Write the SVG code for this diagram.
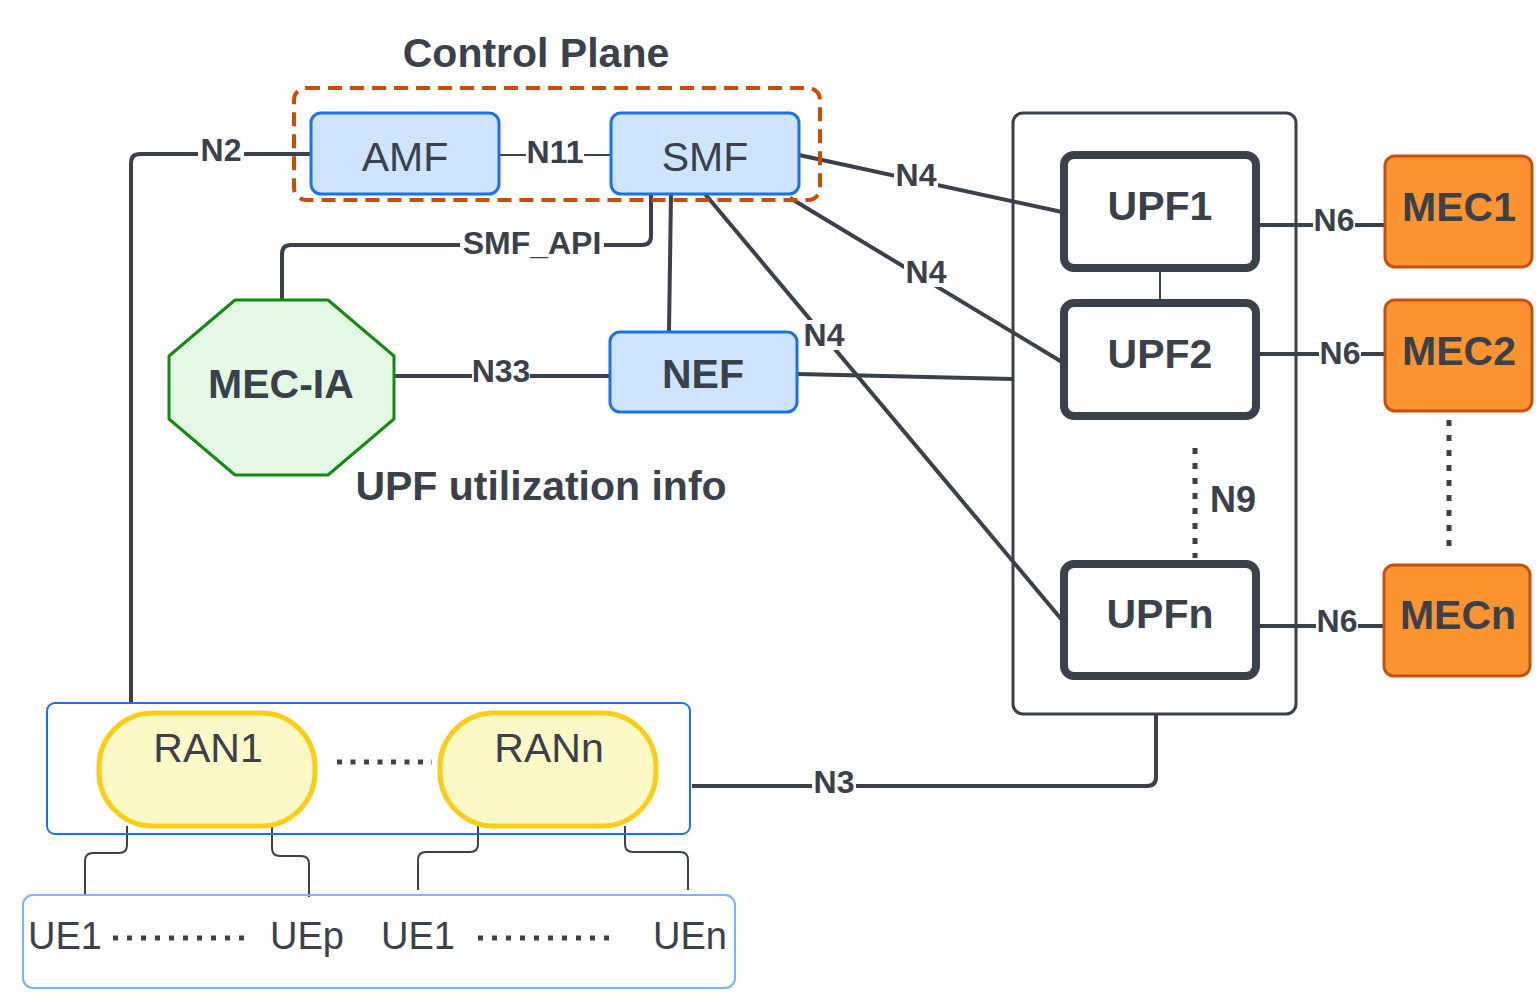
<svg xmlns="http://www.w3.org/2000/svg" width="1536" height="998" viewBox="0 0 1536 998">
<style>
text{font-family:"Liberation Sans",Arial,sans-serif;fill:#3a414a;text-anchor:middle;dominant-baseline:central}
.b{font-weight:bold}
.lbl{font-weight:bold;font-size:32px}
.big{font-size:41px}
.line{stroke:#3a414a;stroke-width:4;fill:none}
.thin{stroke:#3a414a;stroke-width:2;fill:none}
.blue{fill:#cfe4ff;stroke:#1a73e8;stroke-width:3}
.upf{fill:#fff;stroke:#3a414a;stroke-width:8}
.mec{fill:#fb9431;stroke:#c94f0d;stroke-width:3}
.ran{fill:#fcf9c6;stroke:#fccd16;stroke-width:5}
.bg{fill:#fff}
</style>
<rect width="1536" height="998" fill="#fff"/>
<g id="connectors">
  <path class="line" d="M311,154 H140 Q131,154 131,163 V702"/>
  <path class="line" d="M499,155 H611" style="stroke-width:2"/>
  <path class="line" d="M651,194 V236 Q651,245 642,245 H291 Q282,245 282,254 V300"/>
  <path class="line" d="M671,194 L669,331"/>
  <path class="line" d="M705,194 L1062,620"/>
  <path class="line" d="M799,155 L1062,212"/>
  <path class="line" d="M790,198 L1062,362"/>
  <path class="line" d="M394,376 H610"/>
  <path class="line" d="M797,374 L1013,379"/>
  <path class="thin" d="M1160,268 V303"/>
  <path class="line" d="M1195,448 V558" stroke-dasharray="6,9" style="stroke-width:5"/>
  <path class="line" d="M1449,420 V548" stroke-dasharray="6,9" style="stroke-width:5"/>
  <path class="line" d="M1256,225 H1385"/>
  <path class="line" d="M1256,354 H1385"/>
  <path class="line" d="M1256,626 H1385"/>
  <path class="line" d="M1156,714 V777 Q1156,786 1147,786 H692"/>
  <path class="thin" d="M127,826 V845 Q127,853 119,853 H93 Q85,853 85,861 V895"/>
  <path class="thin" d="M272,826 V848 Q272,856 280,856 H301 Q309,856 309,864 V897"/>
  <path class="thin" d="M478,826 V844 Q478,852 470,852 H426 Q418,852 418,860 V890"/>
  <path class="thin" d="M625,826 V844 Q625,852 633,852 H680 Q688,852 688,860 V890"/>
  <path class="line" d="M337,762 H432" stroke-dasharray="5,8.5" style="stroke-width:5"/>
  <path class="line" d="M113,938 H252" stroke-dasharray="5,9" style="stroke-width:5"/>
  <path class="line" d="M478,938 H618" stroke-dasharray="5,9" style="stroke-width:5"/>
  <rect class="bg" x="198" y="136" width="46" height="30"/>
  <text class="lbl" x="221" y="150">N2</text>
  <rect class="bg" x="526" y="138" width="58" height="30"/>
  <text class="lbl" x="555" y="152">N11</text>
  <rect class="bg" x="460" y="229" width="144" height="30"/>
  <text class="lbl" x="532" y="243">SMF_API</text>
  <rect class="bg" x="894" y="160" width="44" height="30"/>
  <text class="lbl" x="916" y="175">N4</text>
  <rect class="bg" x="904" y="257" width="44" height="30"/>
  <text class="lbl" x="926" y="272">N4</text>
  <rect class="bg" x="802" y="320" width="44" height="30"/>
  <text class="lbl" x="824" y="335">N4</text>
  <rect class="bg" x="472" y="357" width="58" height="30"/>
  <text class="lbl" x="501" y="371">N33</text>
  <text class="lbl" x="1233" y="499" style="font-size:36px">N9</text>
  <rect class="bg" x="1313" y="206" width="42" height="30"/>
  <text class="lbl" x="1334" y="220">N6</text>
  <rect class="bg" x="1319" y="339" width="42" height="30"/>
  <text class="lbl" x="1340" y="353">N6</text>
  <rect class="bg" x="1316" y="607" width="42" height="30"/>
  <text class="lbl" x="1337" y="621">N6</text>
  <rect class="bg" x="812" y="768" width="44" height="30"/>
  <text class="lbl" x="834" y="782">N3</text>
</g>
<g id="control-plane">
  <rect x="294" y="88" width="526" height="112" rx="12" fill="none" stroke="#cc4c02" stroke-width="4" stroke-dasharray="14,8"/>
  <text class="b" x="536" y="53" style="font-size:41px">Control Plane</text>
</g>
<g id="amf">
  <rect class="blue" x="311" y="113" width="188" height="81" rx="10"/>
  <text class="big" x="405" y="157">AMF</text>
</g>
<g id="smf">
  <rect class="blue" x="611" y="113" width="188" height="81" rx="10"/>
  <text class="big" x="705" y="157">SMF</text>
</g>
<g id="mec-ia">
  <polygon points="235,300 328,300 394,356 394,419 328,475 235,475 169,419 169,356" fill="#e3f9e3" stroke="#138a13" stroke-width="3" stroke-linejoin="round"/>
  <text class="big b" x="281" y="384">MEC-IA</text>
</g>
<g id="nef">
  <rect class="blue" x="610" y="332" width="187" height="80" rx="10"/>
  <text class="big b" x="703" y="374">NEF</text>
</g>
<g id="upf-info">
  <text class="big b" x="541" y="486">UPF utilization info</text>
</g>
<g id="upf-group">
  <rect x="1013" y="113" width="283" height="601" rx="10" fill="none" stroke="#3a414a" stroke-width="3"/>
</g>
<g id="upf1">
  <rect class="upf" x="1064" y="155" width="192" height="113" rx="10"/>
  <text class="big b" x="1160" y="206">UPF1</text>
</g>
<g id="upf2">
  <rect class="upf" x="1064" y="303" width="192" height="113" rx="10"/>
  <text class="big b" x="1160" y="354">UPF2</text>
</g>
<g id="upfn">
  <rect class="upf" x="1064" y="564" width="192" height="112" rx="10"/>
  <text class="big b" x="1160" y="614">UPFn</text>
</g>
<g id="mec1">
  <rect class="mec" x="1385" y="156" width="147" height="111" rx="10"/>
  <text class="big b" x="1459" y="207">MEC1</text>
</g>
<g id="mec2">
  <rect class="mec" x="1385" y="300" width="147" height="111" rx="10"/>
  <text class="big b" x="1459" y="351">MEC2</text>
</g>
<g id="mecn">
  <rect class="mec" x="1384" y="565" width="146" height="111" rx="10"/>
  <text class="big b" x="1458" y="615">MECn</text>
</g>
<g id="ran-group">
  <rect x="47" y="703" width="643" height="131" rx="8" fill="none" stroke="#1a73e8" stroke-width="2"/>
</g>
<g id="ran1">
  <rect class="ran" x="99" y="713" width="216" height="113" rx="54"/>
  <text class="big" x="208" y="748">RAN1</text>
</g>
<g id="rann">
  <rect class="ran" x="440" y="713" width="216" height="113" rx="54"/>
  <text class="big" x="549" y="748">RANn</text>
</g>
<g id="ue-group">
  <rect x="23" y="895" width="712" height="93" rx="10" fill="none" stroke="#7ab4f5" stroke-width="2"/>
  <text x="65" y="936" style="font-size:38px">UE1</text>
  <text x="307" y="936" style="font-size:38px">UEp</text>
  <text x="418" y="936" style="font-size:38px">UE1</text>
  <text x="690" y="936" style="font-size:38px">UEn</text>
</g>
</svg>
